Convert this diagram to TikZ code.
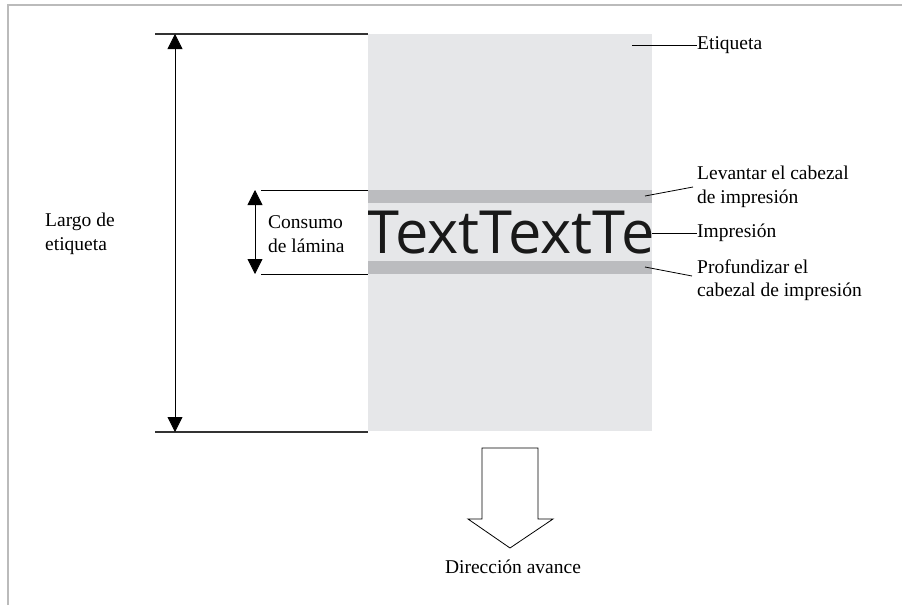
\documentclass[tikz,border=0pt]{standalone}
\usepackage{fontspec}
\setmainfont{Liberation Serif}
\newfontfamily\bigsans{Open Sans}
\usetikzlibrary{arrows.meta}
\definecolor{labelgray}{HTML}{E6E7E9}
\definecolor{bandgray}{HTML}{BBBCBF}
\definecolor{framegray}{HTML}{BBBBBB}
\tikzset{
  lbl/.style={anchor=west, inner sep=0pt, align=left, font=\fontsize{19.5}{23.5}\selectfont},
  leader/.style={draw=black, line width=0.8pt},
  dimline/.style={draw=black!80, line width=1.3pt},
  dimarrow/.style={draw=black, line width=0.8pt, {Triangle[width=15pt,length=15pt]}-{Triangle[width=15pt,length=15pt]}},
}
\begin{document}
\begin{tikzpicture}[x=1pt,y=-1pt]
\useasboundingbox (0,0) rectangle (902,605);
% frame
\draw[framegray, line width=1.2pt] (8,605) -- (8,5) -- (902,5);
% label
\fill[labelgray] (368,34) rectangle (652,431);
\fill[bandgray] (368,190) rectangle (652,203);
\fill[bandgray] (368,261) rectangle (652,274);
\begin{scope}
\clip (368,150) rectangle (652,300);
\node[anchor=base west, inner sep=0pt, font=\bigsans\fontsize{59.5}{62}\selectfont, text=black!90] (txt) at (366,253) {TextTextTe};
\end{scope}
% dimension lines
\coordinate (t1) at (155,34); \coordinate (t2) at (368,34);
\coordinate (b1) at (155,432); \coordinate (b2) at (368,432);
\draw[dimline] (t1) -- (t2);
\draw[dimline] (b1) -- (b2);
\coordinate (la) at (175,34); \coordinate (lb) at (175,432);
\draw[dimarrow] (la) -- (lb);
\coordinate (c1) at (261,190); \coordinate (c2) at (368,190);
\coordinate (d1) at (261,274); \coordinate (d2) at (368,274);
\draw[leader] (c1) -- (c2);
\draw[leader] (d1) -- (d2);
\coordinate (ca) at (255,190); \coordinate (cb) at (255,274);
\draw[dimarrow] (ca) -- (cb);
% left labels
\node[lbl] (largo) at (45,234) {Largo de\\etiqueta};
\node[lbl] (consumo) at (268,234) {Consumo\\de lámina};
% right labels
\node[lbl] (etiq) at (697,45) {Etiqueta};
\node[lbl] (lev) at (697,187) {Levantar el cabezal\\de impresión};
\node[lbl] (imp) at (697,233) {Impresión};
\node[lbl] (prof) at (697,280) {Profundizar el\\cabezal de impresión};
\coordinate (pe) at (632,45);
\coordinate (pl) at (645,196);
\coordinate (pi) at (652,233);
\coordinate (pp) at (645,267);
\draw[leader] (pe) -- (etiq.west);
\draw[leader] (pl) -- (693,187);
\draw[leader] (pi) -- (imp.west);
\draw[leader] (pp) -- (692,276);
% direction arrow
\draw[black, line width=0.8pt, line join=miter] (482,448) -- (538,448) -- (538,519) -- (553,519) -- (510,548) -- (468,519) -- (482,519) -- cycle;
\node[anchor=center, inner sep=0pt, font=\fontsize{19.5}{23.5}\selectfont] (dir) at (513,567) {Dirección avance};
\end{tikzpicture}
\end{document}
